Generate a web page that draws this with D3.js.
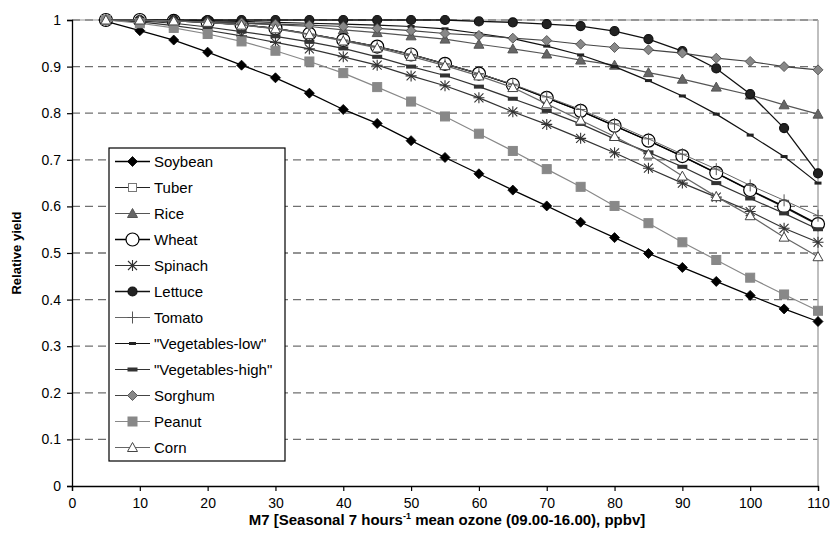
<!DOCTYPE html>
<html><head><meta charset="utf-8">
<script src="https://cdn.jsdelivr.net/npm/d3@7"></script>
<style>body{margin:0;background:#fff}svg{font-family:"Liberation Sans",Arial,sans-serif}</style>
</head><body><svg id="c" width="833" height="548"></svg>
<script>
const ozone = [5,10,15,20,25,30,35,40,45,50,55,60,65,70,75,80,85,90,95,100,105,110];
const soybean = [0.997,0.977,0.957,0.931,0.903,0.876,0.843,0.808,0.778,0.741,0.705,0.670,0.635,0.601,0.566,0.533,0.499,0.469,0.439,0.409,0.380,0.353];
const tuber   = [1.0,1.0,0.998,0.995,0.990,0.982,0.970,0.957,0.943,0.926,0.906,0.885,0.861,0.833,0.805,0.773,0.741,0.707,0.671,0.634,0.598,0.560];
const rice    = [1.0,0.999,0.998,0.996,0.993,0.990,0.986,0.979,0.973,0.966,0.959,0.948,0.938,0.927,0.914,0.903,0.887,0.873,0.856,0.839,0.818,0.798];
const wheat   = [1.0,1.0,0.998,0.995,0.990,0.982,0.970,0.957,0.943,0.926,0.906,0.885,0.861,0.833,0.805,0.773,0.741,0.708,0.672,0.635,0.600,0.562];
const spinach = [1.0,0.996,0.988,0.978,0.966,0.952,0.938,0.921,0.903,0.880,0.859,0.833,0.803,0.776,0.746,0.715,0.682,0.650,0.620,0.589,0.553,0.523];
const lettuce = [1.0,1.0,1.0,1.0,1.0,1.0,1.0,1.0,1.0,1.0,1.0,0.997,0.995,0.991,0.987,0.976,0.959,0.933,0.896,0.841,0.768,0.671];
const tomato  = [1.0,1.0,0.998,0.995,0.990,0.982,0.970,0.957,0.943,0.926,0.906,0.885,0.862,0.835,0.808,0.777,0.745,0.712,0.680,0.645,0.613,0.580];
const vegLow  = [1.0,1.0,0.999,0.998,0.997,0.995,0.993,0.991,0.989,0.986,0.981,0.971,0.960,0.944,0.925,0.900,0.870,0.837,0.798,0.753,0.707,0.650];
const vegHigh = [1.0,0.998,0.993,0.985,0.975,0.965,0.953,0.939,0.921,0.900,0.881,0.857,0.831,0.805,0.777,0.745,0.716,0.685,0.650,0.617,0.585,0.551];
const sorghum = [1.0,0.999,0.998,0.996,0.994,0.991,0.989,0.986,0.982,0.977,0.971,0.967,0.961,0.956,0.948,0.941,0.936,0.929,0.918,0.911,0.900,0.893];
const peanut  = [1.0,0.993,0.983,0.970,0.954,0.934,0.911,0.886,0.856,0.825,0.793,0.756,0.719,0.680,0.642,0.601,0.564,0.523,0.485,0.447,0.411,0.376];
const corn    = [1.0,1.0,0.998,0.995,0.989,0.981,0.969,0.955,0.940,0.922,0.902,0.880,0.855,0.820,0.785,0.750,0.712,0.665,0.621,0.580,0.534,0.492];
const seriesNames = ["Soybean","Tuber","Rice","Wheat","Spinach","Lettuce","Tomato","\"Vegetables-low\"","\"Vegetables-high\"","Sorghum","Peanut","Corn"];
const xTicks = [0,10,20,30,40,50,60,70,80,90,100,110];
const yTicks = [0,0.1,0.2,0.3,0.4,0.5,0.6,0.7,0.8,0.9,1];
const yTitle = "Relative yield";

const values = [soybean,tuber,rice,wheat,spinach,lettuce,tomato,vegLow,vegHigh,sorghum,peanut,corn];
const styles = [
  {line:"#000", lw:1.3, m:"diamond", fill:"#000", stroke:"#000", s:5},
  {line:"#222", lw:1.2, m:"square", fill:"#fff", stroke:"#777", s:4},
  {line:"#555", lw:1.2, m:"triangle", fill:"#666", stroke:"#555", s:5},
  {line:"#000", lw:1.3, m:"circle", fill:"#fff", stroke:"#000", s:6.5},
  {line:"#333", lw:1.2, m:"asterisk", fill:"none", stroke:"#333", s:4.5},
  {line:"#111", lw:1.3, m:"circle", fill:"#222", stroke:"#111", s:4.5},
  {line:"#666", lw:1, m:"plus", fill:"none", stroke:"#555", s:5},
  {line:"#111", lw:1.2, m:"dash", fill:"#222", stroke:"none", s:3.5},
  {line:"#333", lw:1.2, m:"dash2", fill:"#333", stroke:"none", s:5},
  {line:"#444", lw:1.2, m:"diamond", fill:"#888", stroke:"#444", s:5},
  {line:"#888", lw:1.2, m:"square", fill:"#888", stroke:"#888", s:4.5},
  {line:"#666", lw:1.2, m:"triangle", fill:"#fff", stroke:"#444", s:5}
];

const svg = d3.select("#c");
const L=72, R=818, T=20, B=486;
const x = d3.scaleLinear().domain([0,110]).range([L,R]);
const y = d3.scaleLinear().domain([0,1]).range([B,T]);

// gridlines
svg.append("g").selectAll("line").data(yTicks.filter(d=>d>0)).join("line")
  .attr("x1",L).attr("x2",R).attr("y1",d=>y(d)).attr("y2",d=>y(d))
  .attr("stroke","#707070").attr("stroke-width",1.3).attr("stroke-dasharray","8,5");
// plot border top/right
svg.append("line").attr("x1",L).attr("x2",R).attr("y1",T).attr("y2",T).attr("stroke","#999").attr("stroke-width",1);
svg.append("line").attr("x1",R).attr("x2",R).attr("y1",T).attr("y2",B).attr("stroke","#aaa").attr("stroke-width",1.5);

// axes
const yAxis = svg.append("g").attr("transform",`translate(${L},0)`)
  .call(d3.axisLeft(y).tickValues(yTicks).tickFormat(d=>d===0?"0":d===1?"1":d3.format(".1f")(d)).tickSize(5).tickPadding(6));
const xAxis = svg.append("g").attr("transform",`translate(0,${B})`)
  .call(d3.axisBottom(x).tickValues(xTicks).tickFormat(d3.format("d")).tickSize(5).tickPadding(7));
[xAxis,yAxis].forEach(a=>{
  a.select(".domain").attr("stroke","#000").attr("stroke-width",1.3);
  a.selectAll(".tick line").attr("stroke","#000").attr("stroke-width",1.2);
  a.selectAll(".tick text").attr("font-size",14).attr("fill","#000").attr("font-family","Liberation Sans, Arial, sans-serif");
});

function marker(g, st, cx, cy){
  const s=st.s;
  if(st.m==="diamond"){
    g.append("path").attr("d",`M${cx},${cy-s}L${cx+s},${cy}L${cx},${cy+s}L${cx-s},${cy}Z`).attr("fill",st.fill).attr("stroke",st.stroke).attr("stroke-width",0.8);
  } else if(st.m==="square"){
    g.append("rect").attr("x",cx-s).attr("y",cy-s).attr("width",2*s).attr("height",2*s).attr("fill",st.fill).attr("stroke",st.stroke).attr("stroke-width",1);
  } else if(st.m==="triangle"){
    g.append("path").attr("d",`M${cx},${cy-s}L${cx+s},${cy+s*0.8}L${cx-s},${cy+s*0.8}Z`).attr("fill",st.fill).attr("stroke",st.stroke).attr("stroke-width",1);
  } else if(st.m==="circle"){
    g.append("circle").attr("cx",cx).attr("cy",cy).attr("r",s).attr("fill",st.fill).attr("stroke",st.stroke).attr("stroke-width",1.2);
  } else if(st.m==="asterisk"){
    g.append("path").attr("d",`M${cx-s},${cy-s}L${cx+s},${cy+s}M${cx-s},${cy+s}L${cx+s},${cy-s}M${cx},${cy-s-1}L${cx},${cy+s+1}M${cx-s-1},${cy}L${cx+s+1},${cy}`).attr("stroke",st.stroke).attr("stroke-width",1.1).attr("fill","none");
  } else if(st.m==="plus"){
    g.append("path").attr("d",`M${cx},${cy-s-1}L${cx},${cy+s+1}M${cx-s},${cy}L${cx+s},${cy}`).attr("stroke",st.stroke).attr("stroke-width",1).attr("fill","none");
  } else if(st.m==="dash"){
    g.append("rect").attr("x",cx-s).attr("y",cy-1.5).attr("width",2*s).attr("height",3).attr("fill",st.fill);
  } else if(st.m==="dash2"){
    g.append("rect").attr("x",cx-s).attr("y",cy-2).attr("width",2*s).attr("height",4).attr("fill",st.fill);
  }
}

const line = d3.line().x((d,i)=>x(ozone[i])).y(d=>y(d));
values.forEach((vals,k)=>{
  const st=styles[k];
  const g=svg.append("g");
  g.append("path").datum(vals).attr("d",line).attr("fill","none").attr("stroke",st.line).attr("stroke-width",st.lw);
  vals.forEach((v,i)=>marker(g,st,x(ozone[i]),y(v)));
});

// legend
const lg = svg.append("g");
const lx=109, ly=148, lw=176, lh=313, step=26;
lg.append("rect").attr("x",lx).attr("y",ly).attr("width",lw).attr("height",lh).attr("fill","#fff").attr("stroke","#000").attr("stroke-width",1.2);
seriesNames.forEach((n,k)=>{
  const st=styles[k], cy=ly+13.5+k*step;
  lg.append("line").attr("x1",lx+6).attr("x2",lx+41).attr("y1",cy).attr("y2",cy).attr("stroke",st.line).attr("stroke-width",st.lw);
  marker(lg,st,lx+23.5,cy);
  lg.append("text").attr("x",lx+45).attr("y",cy+5.5).attr("font-size",15).attr("fill","#000").text(n);
});

// titles
svg.append("text").attr("transform",`translate(21,${(T+B)/2}) rotate(-90)`).attr("text-anchor","middle")
  .attr("font-size",13).attr("font-weight","bold").text(yTitle);
const xt = svg.append("text").attr("x",(L+R)/2+2).attr("y",525).attr("text-anchor","middle").attr("font-size",15).attr("font-weight","bold");
xt.append("tspan").text("M7 [Seasonal 7 hours");
xt.append("tspan").attr("dy",-6).attr("font-size",9).text("-1");
xt.append("tspan").attr("dy",6).text(" mean ozone (09.00-16.00), ppbv]");
</script></body></html>
